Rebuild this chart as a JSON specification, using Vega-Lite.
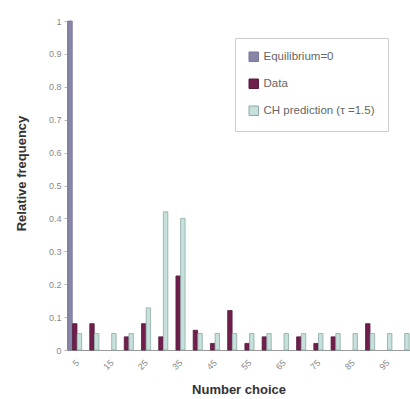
{
  "$schema": "https://vega.github.io/schema/vega-lite/v6.json",
  "autosize": "none",
  "padding": {"left": 67, "top": 21, "right": 0, "bottom": 49},
  "width": 343,
  "height": 329,
  "background": "white",
  "config": {
    "view": {"stroke": null},
    "font": "Liberation Sans"
  },
  "data": {
    "values": [
      {"choice": 5, "series": "Equilibrium=0", "freq": 1.0},
      {"choice": 5, "series": "Data", "freq": 0.08},
      {"choice": 10, "series": "Data", "freq": 0.08},
      {"choice": 20, "series": "Data", "freq": 0.04},
      {"choice": 25, "series": "Data", "freq": 0.08},
      {"choice": 30, "series": "Data", "freq": 0.04},
      {"choice": 35, "series": "Data", "freq": 0.225},
      {"choice": 40, "series": "Data", "freq": 0.06},
      {"choice": 45, "series": "Data", "freq": 0.02},
      {"choice": 50, "series": "Data", "freq": 0.12},
      {"choice": 55, "series": "Data", "freq": 0.02},
      {"choice": 60, "series": "Data", "freq": 0.04},
      {"choice": 70, "series": "Data", "freq": 0.04},
      {"choice": 75, "series": "Data", "freq": 0.02},
      {"choice": 80, "series": "Data", "freq": 0.04},
      {"choice": 90, "series": "Data", "freq": 0.08},
      {"choice": 5, "series": "CH prediction (τ =1.5)", "freq": 0.05},
      {"choice": 10, "series": "CH prediction (τ =1.5)", "freq": 0.05},
      {"choice": 15, "series": "CH prediction (τ =1.5)", "freq": 0.05},
      {"choice": 20, "series": "CH prediction (τ =1.5)", "freq": 0.05},
      {"choice": 25, "series": "CH prediction (τ =1.5)", "freq": 0.128},
      {"choice": 30, "series": "CH prediction (τ =1.5)", "freq": 0.42},
      {"choice": 35, "series": "CH prediction (τ =1.5)", "freq": 0.40},
      {"choice": 40, "series": "CH prediction (τ =1.5)", "freq": 0.05},
      {"choice": 45, "series": "CH prediction (τ =1.5)", "freq": 0.05},
      {"choice": 50, "series": "CH prediction (τ =1.5)", "freq": 0.05},
      {"choice": 55, "series": "CH prediction (τ =1.5)", "freq": 0.05},
      {"choice": 60, "series": "CH prediction (τ =1.5)", "freq": 0.05},
      {"choice": 65, "series": "CH prediction (τ =1.5)", "freq": 0.05},
      {"choice": 70, "series": "CH prediction (τ =1.5)", "freq": 0.05},
      {"choice": 75, "series": "CH prediction (τ =1.5)", "freq": 0.05},
      {"choice": 80, "series": "CH prediction (τ =1.5)", "freq": 0.05},
      {"choice": 85, "series": "CH prediction (τ =1.5)", "freq": 0.05},
      {"choice": 90, "series": "CH prediction (τ =1.5)", "freq": 0.05},
      {"choice": 95, "series": "CH prediction (τ =1.5)", "freq": 0.05},
      {"choice": 100, "series": "CH prediction (τ =1.5)", "freq": 0.05}
    ]
  },
  "mark": {"type": "bar", "strokeWidth": 0.8},
  "encoding": {
    "x": {
      "field": "choice",
      "type": "ordinal",
      "sort": "ascending",
      "scale": {"domain": [5, 10, 15, 20, 25, 30, 35, 40, 45, 50, 55, 60, 65, 70, 75, 80, 85, 90, 95, 100], "paddingInner": 0.2, "paddingOuter": 0.05},
      "axis": {
        "title": "Number choice",
        "titleFontSize": 13,
        "titleFontWeight": "bold",
        "titleColor": "#333",
        "titlePadding": 12,
        "labelAngle": -45,
        "labelFontSize": 9,
        "labelColor": "#888",
        "labelOverlap": false,
        "labelExpr": "datum.value % 10 == 5 ? datum.label : ''",
        "domainColor": "#999",
        "ticks": false,
        "labelPadding": 8
      }
    },
    "xOffset": {
      "field": "series",
      "type": "nominal",
      "scale": {"domain": ["Equilibrium=0", "Data", "CH prediction (τ =1.5)"], "paddingInner": 0.05}
    },
    "y": {
      "field": "freq",
      "type": "quantitative",
      "scale": {"domain": [0, 1], "nice": false},
      "axis": {
        "title": "Relative frequency",
        "titleFontSize": 13,
        "titleFontWeight": "bold",
        "titleColor": "#333",
        "titleX": -39,
        "titleY": 152,
        "values": [0, 0.1, 0.2, 0.3, 0.4, 0.5, 0.6, 0.7, 0.8, 0.9, 1],
        "format": ".1~f",
        "labelFontSize": 9,
        "labelColor": "#888",
        "grid": false,
        "domainColor": "#999",
        "tickColor": "#bbb",
        "tickSize": 3,
        "labelPadding": 3
      }
    },
    "color": {
      "field": "series",
      "type": "nominal",
      "scale": {
        "domain": ["Equilibrium=0", "Data", "CH prediction (τ =1.5)"],
        "range": ["#8886a6", "#6e1f4c", "#c6e0dc"]
      },
      "legend": {
        "title": null,
        "orient": "none",
        "legendX": 168,
        "legendY": 17,
        "padding": 13,
        "rowPadding": 13,
        "strokeColor": "#cccccc",
        "fillColor": "white",
        "symbolType": "square",
        "symbolSize": 90,
        "symbolStrokeWidth": 1,
        "labelFontSize": 11.5,
        "labelColor": "#666",
        "labelLimit": 200
      }
    },
    "stroke": {
      "field": "series",
      "type": "nominal",
      "scale": {
        "domain": ["Equilibrium=0", "Data", "CH prediction (τ =1.5)"],
        "range": ["#77759a", "#5a1840", "#8ea9a6"]
      },
      "legend": null
    }
  }
}
